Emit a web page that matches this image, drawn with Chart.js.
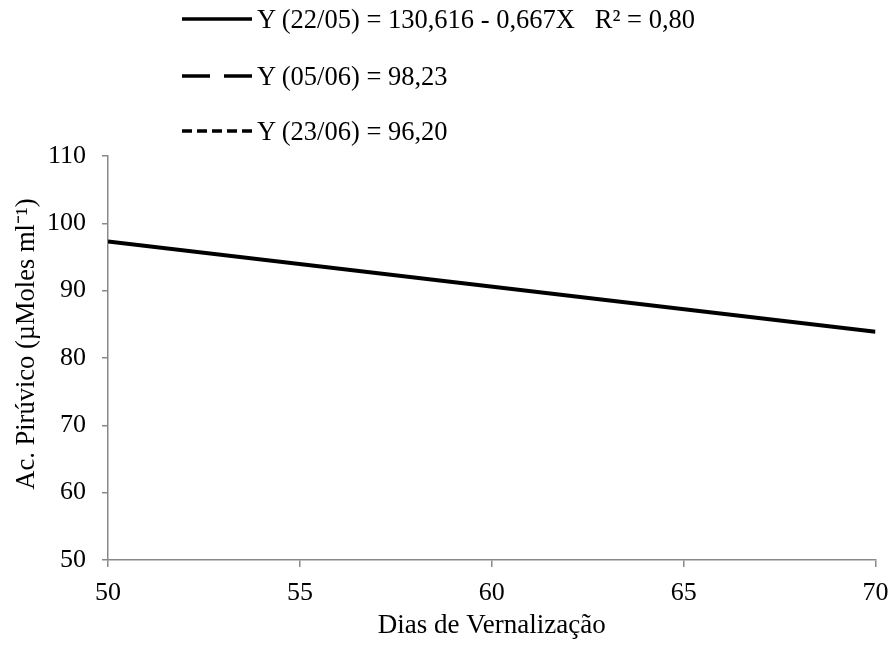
<!DOCTYPE html>
<html>
<head>
<meta charset="utf-8">
<script src="https://cdn.jsdelivr.net/npm/chart.js@4/dist/chart.umd.min.js"></script>
<style>
  html, body { margin: 0; padding: 0; background: #fff; }
  #wrap { position: relative; width: 891px; height: 645px; }
  #legend { position: absolute; left: 182px; top: 0; font-family: "Liberation Serif", "Times New Roman", serif; font-size: 26.5px; color: #000; }
  .item { position: absolute; left: 0; white-space: pre; height: 30px; line-height: 30px; }
  .item svg { position: absolute; left: 0; }
  .item span { position: absolute; left: 75px; top: 0; }
</style>
</head>
<body>
<div id="wrap">
  <canvas id="c" width="891" height="645"></canvas>
  <div id="legend"></div>
</div>
<script>
// ---- data ----
const seriesLabels = [
  "Y (22/05) = 130,616 - 0,667X   R² = 0,80",
  "Y (05/06) = 98,23",
  "Y (23/06) = 96,20"
];
const xDays = [50, 70];
const y2205 = [97.3, 83.9];
const y0506 = [];
const y2306 = [];
const xTicks = [50, 55, 60, 65, 70];
const yTicks = [50, 60, 70, 80, 90, 100, 110];
const xTitle = "Dias de Vernalização";
const yTitle = "Ac. Pirúvico (µMoles ml⁻¹)";

const dashes = [[], [28, 14], [10, 5]];
const seriesY = [y2205, y0506, y2306];

const datasets = seriesLabels.map((lab, i) => ({
  label: lab,
  data: seriesY[i].map((v, k) => ({ x: xDays[k], y: v })),
  showLine: true,
  borderColor: '#000',
  backgroundColor: '#000',
  borderWidth: 4,
  borderDash: dashes[i],
  pointRadius: 0,
  fill: false
}));

const fam = '"Liberation Serif", "Times New Roman", serif';
const tickFont = { family: fam, size: 26 };
const titleFont = { family: fam, size: 27 };
const axisGray = '#898989';

// y-axis title drawn slightly above the plot centre, as in the reference
const yTitlePlugin = {
  id: 'yTitle',
  afterDraw(chart) {
    const ctx = chart.ctx;
    ctx.save();
    ctx.translate(27, 344);
    ctx.rotate(-Math.PI / 2);
    ctx.font = '26.5px ' + fam;
    ctx.fillStyle = '#000';
    ctx.textAlign = 'center';
    ctx.textBaseline = 'middle';
    ctx.fillText(yTitle, 0, 0);
    ctx.restore();
  }
};

new Chart(document.getElementById('c'), {
  type: 'scatter',
  data: { datasets },
  plugins: [yTitlePlugin],
  options: {
    responsive: false,
    animation: false,
    layout: { padding: { top: 156, right: 15.5, left: 0, bottom: 0 } },
    plugins: { legend: { display: false }, tooltip: { enabled: false } },
    scales: {
      x: {
        type: 'linear', min: 50, max: 70,
        afterBuildTicks: s => { s.ticks = xTicks.map(v => ({ value: v })); },
        afterFit: s => { s.height = 645 - 560; s.paddingRight = 0; s.paddingLeft = 0; },
        border: { color: axisGray, width: 1.5 },
        grid: { drawOnChartArea: false, drawTicks: true, tickLength: 7, color: axisGray, lineWidth: 1.5 },
        ticks: { color: '#000', font: tickFont, padding: 11, maxRotation: 0 },
        title: { display: true, text: xTitle, color: '#000', font: titleFont, padding: { top: 0, bottom: 3 } }
      },
      y: {
        type: 'linear', min: 50, max: 110,
        afterBuildTicks: s => { s.ticks = yTicks.map(v => ({ value: v })); },
        afterFit: s => { s.width = 108; s.paddingTop = 0; s.paddingBottom = 0; },
        border: { color: axisGray, width: 1.5 },
        grid: { drawOnChartArea: false, drawTicks: true, tickLength: 6, color: axisGray, lineWidth: 1.5 },
        ticks: { color: '#000', font: tickFont, padding: 16 },
        title: { display: false, text: yTitle }
      }
    }
  }
});

// HTML legend (real text)
const legend = document.getElementById('legend');
const rowCenters = [19, 76, 131];
seriesLabels.forEach((lab, i) => {
  const d = document.createElement('div');
  d.className = 'item';
  d.style.top = (rowCenters[i] - 15) + 'px';
  const dash = dashes[i].length ? `stroke-dasharray="${dashes[i].join(' ')}"` : '';
  d.innerHTML = `<svg width="70" height="30"><line x1="0" y1="15" x2="70" y2="15" stroke="#000" stroke-width="3.3" ${dash}/></svg><span></span>`;
  d.querySelector('span').textContent = lab;
  legend.appendChild(d);
});
</script>
</body>
</html>
